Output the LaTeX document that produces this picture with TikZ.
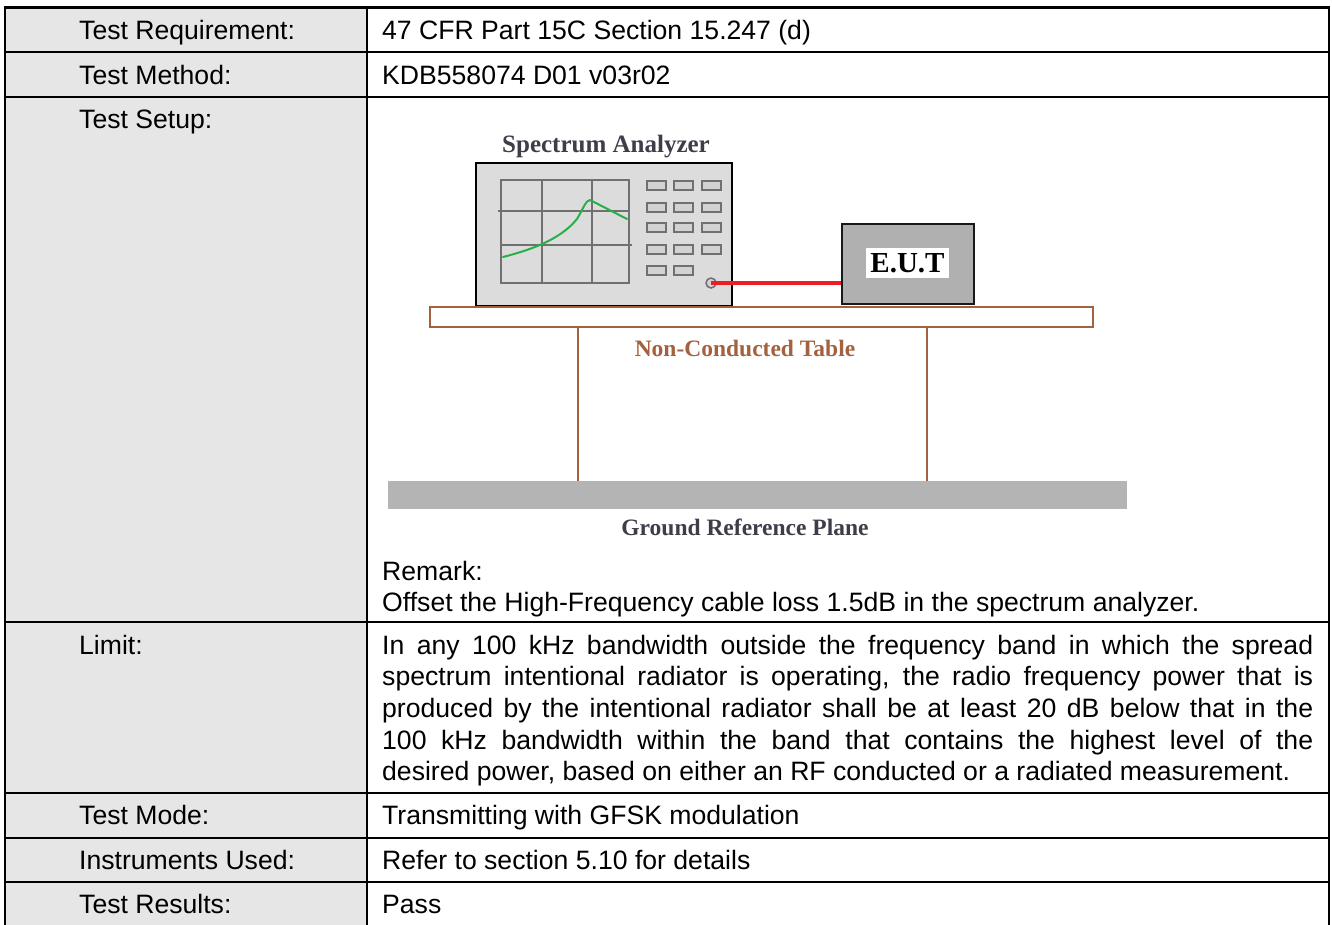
\documentclass[tikz,border=0pt]{standalone}
\usepackage{fontspec}
\setmainfont{Liberation Sans}
\newfontfamily\figserif{Liberation Serif}
\newcommand\fsz{\fontsize{26.6}{31.7}\selectfont}
\definecolor{labelgray}{HTML}{E6E6E6}
\definecolor{sagray}{HTML}{DCDCDC}
\definecolor{gridc}{HTML}{707070}
\definecolor{btnfill}{HTML}{D2D2D2}
\definecolor{eutgray}{HTML}{B0B0B0}
\definecolor{tablebrown}{HTML}{A3623F}
\definecolor{groundgray}{HTML}{B4B4B4}
\definecolor{darklabel}{HTML}{3E3E4A}
\definecolor{tracegreen}{HTML}{2AAE4A}
\definecolor{cablered}{HTML}{EE1C24}
\begin{document}
\begin{tikzpicture}[x=1pt,y=-1pt,
  cell/.style={anchor=base west, inner sep=0pt, font=\fsz},
  rule/.style={line width=2.6pt, black},
  figtext/.style={anchor=base, inner sep=0pt, font=\figserif\bfseries\fontsize{23.5}{26}\selectfont},
  btn/.style={draw=gridc, fill=btnfill, line width=1.5pt},
  gridline/.style={draw=gridc, line width=2pt}]
\useasboundingbox (0,0) rectangle (1332,924);
% table background and rules
\fill[white] (0,0) rectangle (1332,924);
\fill[labelgray] (5,7.5) rectangle (367,932);
\draw[rule] (5,7.5) rectangle (1329,932);
\foreach \yy in {52,97,622,793,838,882} \draw[rule] (5,\yy) -- (1329,\yy);
\draw[rule] (367,7.5) -- (367,932);
% labels
\node[cell] (l1) at (79,39) {Test Requirement:};
\node[cell] (l2) at (79,84) {Test Method:};
\node[cell] (l3) at (79,128) {Test Setup:};
\node[cell] (l4) at (79,654) {Limit:};
\node[cell] (l5) at (79,824) {Test Mode:};
\node[cell] (l6) at (79,869) {Instruments Used:};
\node[cell] (l7) at (79,913) {Test Results:};
% values
\node[cell] (v1) at (382,39) {47 CFR Part 15C Section 15.247 (d)};
\node[cell] (v2) at (382,84) {KDB558074 D01 v03r02};
\node[cell] (rm1) at (382,580) {Remark:};
\node[cell] (rm2) at (382,611) {Offset the High-Frequency cable loss 1.5dB in the spectrum analyzer.};
\node[cell] (lim1) at (382,654) {\makebox[931pt][s]{In any 100 kHz bandwidth outside the frequency band in which the spread}};
\node[cell] (lim2) at (382,685.7) {\makebox[931pt][s]{spectrum intentional radiator is operating, the radio frequency power that is}};
\node[cell] (lim3) at (382,717.4) {\makebox[931pt][s]{produced by the intentional radiator shall be at least 20 dB below that in the}};
\node[cell] (lim4) at (382,749.1) {\makebox[931pt][s]{100 kHz bandwidth within the band that contains the highest level of the}};
\node[cell] (lim5) at (382,780.8) {desired power, based on either an RF conducted or a radiated measurement.};
\node[cell] (v5) at (382,824) {Transmitting with GFSK modulation};
\node[cell] (v6) at (382,869) {Refer to section 5.10 for details};
\node[cell] (v7) at (382,913) {Pass};
% ---- test setup figure ----
\node[figtext, text=darklabel, font=\figserif\bfseries\fontsize{25}{28}\selectfont] (salabel) at (606,152) {Spectrum Analyzer};
\node[draw=black, line width=2.6pt, fill=sagray, minimum width=256pt, minimum height=143pt, inner sep=0pt] (sa) at (604,234.5) {};
% screen grid
\draw[gridline] (501,180) rectangle (629,283);
\draw[gridline] (542,180) -- (542,283);
\draw[gridline] (592,180) -- (592,283);
\draw[gridline] (498,211) -- (629,211);
\draw[gridline] (501,245) -- (632,245);
% trace
\draw[tracegreen, line width=2pt, line join=round, line cap=round]
  (503,257) .. controls (530,250) and (560,240) .. (577,219)
  .. controls (583,209) and (586,200) .. (590,200) -- (627,219);
% buttons
\foreach \yy in {181,203,223,245} {
  \foreach \xx in {647,674,702} \draw[btn] (\xx,\yy) rectangle ++(19,9);
}
\foreach \xx in {647,674} \draw[btn] (\xx,266) rectangle ++(19,9);
\node[circle, draw=gridc, fill=btnfill, line width=1.5pt, minimum size=10pt, inner sep=0pt] (port) at (711,283) {};
% EUT
\node[draw=black!90, line width=2.4pt, fill=eutgray, minimum width=132pt, minimum height=80pt, inner sep=0pt] (eut) at (908,264) {};
\node[fill=white, minimum width=83pt, minimum height=30pt, inner sep=0pt, font=\figserif\bfseries\fontsize{29}{32}\selectfont] (eutlabel) at (907.5,263) {E.U.T};
% cable
\draw[cablered, line width=4.5pt] (port.center) -- (port.center -| eut.west);
% table
\node[draw=tablebrown, line width=2pt, fill=white, minimum width=663pt, minimum height=20pt, inner sep=0pt] (tabletop) at (761.5,317) {};
\node[fill=groundgray, minimum width=739pt, minimum height=28pt, inner sep=0pt] (ground) at (757.5,495) {};
\coordinate (legL) at (578,0);
\coordinate (legR) at (926.5,0);
\draw[tablebrown, line width=2pt] (legL |- tabletop.south) -- (legL |- ground.north);
\draw[tablebrown, line width=2pt] (legR |- tabletop.south) -- (legR |- ground.north);
\node[figtext, text=tablebrown] (tablelabel) at (745,356) {Non-Conducted Table};
\node[figtext, text=darklabel] (groundlabel) at (745,535) {Ground Reference Plane};
\end{tikzpicture}
\end{document}
